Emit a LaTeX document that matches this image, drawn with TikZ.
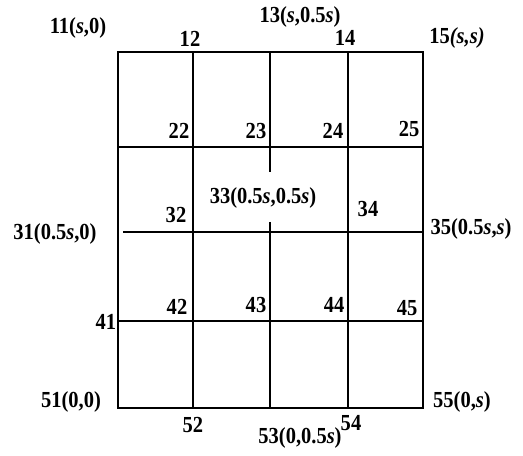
\documentclass[tikz,border=0pt]{standalone}
\usepackage{fontspec}
\setmainfont{Liberation Serif}
\usepackage{tikz}
\usetikzlibrary{positioning}
\newcommand{\sv}{\textit{s}}

\begin{document}
\begin{tikzpicture}[
  grid/.style={line width=2pt, black},
  lab/.style={font=\fontsize{17.5}{20}\selectfont\bfseries, inner sep=0pt,
              yscale=1.12, transform shape},
]
  \useasboundingbox (0,0) rectangle (15.69,13.68);

  % Outer frame
  \draw[grid] (3.54,1.44) rectangle (12.69,12.12);

  % Inner grid lines
  \draw[grid] (5.79,12.12) -- (5.79,1.44);
  \draw[grid] (8.10,12.12) -- (8.10,8.52);
  \draw[grid] (8.10,7.02) -- (8.10,1.44);
  \draw[grid] (10.44,12.12) -- (10.44,1.44);
  \draw[grid] (3.54,9.27) -- (12.69,9.27);
  \draw[grid] (3.69,6.72) -- (12.69,6.72);
  \draw[grid] (3.54,4.05) -- (12.69,4.05);

  % Top row
  \node[lab] (n11) at (2.34,12.84) {11(\sv,0)};
  \node[lab] (n12) at (5.70,12.51) {12};
  \node[lab] (n13) at (9.00,13.17) {13(\sv,0.5\sv)};
  \node[lab] (n14) at (10.35,12.54) {14};
  \node[lab] (n15) at (13.71,12.54) {15\textit{(s,s)}};

  % Second row
  \node[lab] (n22) at (5.37,9.75) {22};
  \node[lab] (n23) at (7.68,9.75) {23};
  \node[lab] (n24) at (9.99,9.75) {24};
  \node[lab] (n25) at (12.27,9.81) {25};

  % Middle row
  \node[lab] (n31) at (1.65,6.66) {31(0.5\sv,0)};
  \node[lab] (n32) at (5.28,7.23) {32};
  \node[lab] (n33) at (7.89,7.74) {33(0.5\sv,0.5\sv)};
  \node[lab] (n34) at (11.04,7.41) {34};
  \node[lab] (n35) at (14.13,6.81) {35(0.5\sv,\sv)};

  % Fourth row
  \node[lab] (n41) at (3.18,4.02) {41};
  \node[lab] (n42) at (5.31,4.47) {42};
  \node[lab] (n43) at (7.68,4.53) {43};
  \node[lab] (n44) at (10.02,4.53) {44};
  \node[lab] (n45) at (12.21,4.44) {45};

  % Bottom row
  \node[lab] (n51) at (2.13,1.62) {51(0,0)};
  \node[lab] (n52) at (5.79,0.93) {52};
  \node[lab] (n53) at (9.00,0.54) {53(0,0.5\sv)};
  \node[lab] (n54) at (10.53,0.99) {54};
  \node[lab] (n55) at (13.86,1.62) {55(0,\sv)};
\end{tikzpicture}
\end{document}
